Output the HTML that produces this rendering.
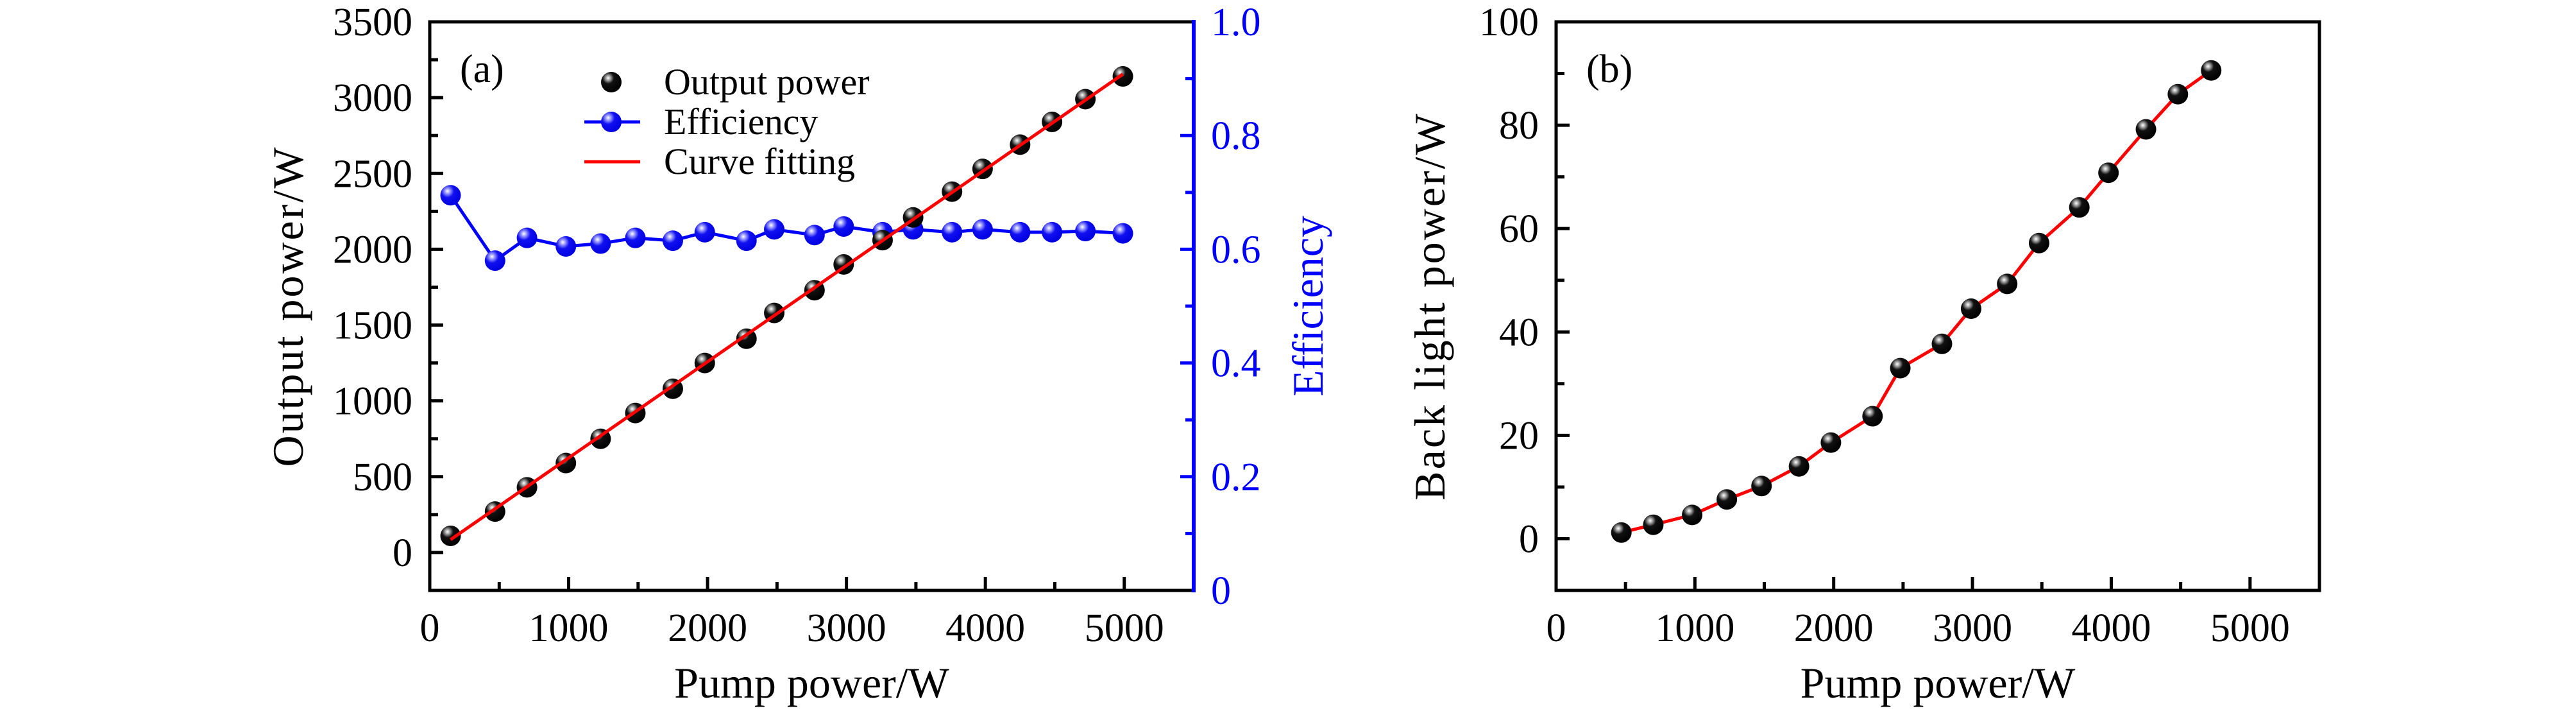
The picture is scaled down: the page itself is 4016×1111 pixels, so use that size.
<!DOCTYPE html>
<html><head><meta charset="utf-8"><style>
html,body{margin:0;padding:0;background:#fff;}
svg{display:block;}
text{font-family:"Liberation Serif","DejaVu Serif",serif;}
</style></head><body>
<svg id="chart" width="4016" height="1111" viewBox="0 0 4016 1111" xmlns="http://www.w3.org/2000/svg" font-family="Liberation Serif, DejaVu Serif, serif">
<defs>
<radialGradient id="gBlack" cx="0.35" cy="0.3" r="0.7">
<stop offset="0" stop-color="#fff"/><stop offset="0.18" stop-color="#999"/><stop offset="0.4" stop-color="#111"/><stop offset="1" stop-color="#000"/>
</radialGradient>
<radialGradient id="gBlue" cx="0.35" cy="0.3" r="0.7">
<stop offset="0" stop-color="#fff"/><stop offset="0.18" stop-color="#9a9aff"/><stop offset="0.45" stop-color="#1010f0"/><stop offset="1" stop-color="#0000e0"/>
</radialGradient>
</defs>
<g id="pa"></g>
<g id="pb"></g>
</svg>
<script>
const aPump = [150, 470, 700, 980, 1230, 1480, 1750, 1980, 2280, 2480, 2770, 2980, 3260, 3480, 3760, 3980, 4250, 4480, 4720, 4990];
const aOutput = [110, 270, 430, 590, 750, 920, 1080, 1250, 1410, 1580, 1730, 1900, 2060, 2210, 2380, 2530, 2690, 2840, 2990, 3140];
const aEff = [0.695, 0.58, 0.62, 0.605, 0.61, 0.62, 0.615, 0.63, 0.615, 0.635, 0.625, 0.64, 0.63, 0.635, 0.63, 0.635, 0.63, 0.63, 0.632, 0.628];
const aFitX = [150, 4990];
const aFitY = [85, 3155];
const bPump = [470, 700, 980, 1230, 1480, 1750, 1980, 2280, 2480, 2780, 2990, 3250, 3480, 3770, 3980, 4250, 4480, 4720];
const bBack = [1.2, 2.7, 4.6, 7.6, 10.2, 14, 18.6, 23.7, 33, 37.7, 44.5, 49.3, 57.2, 64.1, 70.8, 79.2, 86, 90.6];
const xTicks = [0, 1000, 2000, 3000, 4000, 5000];
const aYTicks = [0, 500, 1000, 1500, 2000, 2500, 3000, 3500];
const aEffTicks = [0, 0.2, 0.4, 0.6, 0.8, 1.0];
const aEffLabels = ["0", "0.2", "0.4", "0.6", "0.8", "1.0"];
const bYTicks = [0, 20, 40, 60, 80, 100];

const NS = "http://www.w3.org/2000/svg";
const FF = '"Liberation Serif", "DejaVu Serif", serif';
function mk(parent, tag, attrs, text){
  const e = document.createElementNS(NS, tag);
  for (const k in attrs) e.setAttribute(k, attrs[k]);
  if (tag === 'text') e.style.fontFamily = FF;
  if (text !== undefined) e.textContent = text;
  parent.appendChild(e); return e;
}
const TOP = 34, BOT = 920;
const TF = 62, AF = 68;

const pa = document.getElementById('pa');
const aL = 670, aR = 1861;
const ax = v => aL + (v - 0) / 5500 * (aR - aL);
const ay = v => BOT - (v + 250) / 3750 * (BOT - TOP);
const ae = v => BOT - v * (BOT - TOP);

function drawXAxis(g, L, R, xf){
  for (let v = 500; v <= 5000; v += 1000) {
    const m = mk(g, 'line', {x1: xf(v), x2: xf(v), y1: BOT, y2: BOT - 13, stroke: '#000', 'stroke-width': 5});
    
    
  }
  xTicks.forEach(v => {
    const t = mk(g, 'line', {x1: xf(v), x2: xf(v), y1: BOT, y2: BOT - 21, stroke: '#000', 'stroke-width': 5});
    
    
    const l = mk(g, 'text', {x: xf(v), y: 999, 'font-size': TF, 'text-anchor': 'middle'}, String(v));
    
    
  });
  const tt = mk(g, 'text', {x: (L + R) / 2, y: 1087, 'font-size': AF, 'text-anchor': 'middle'}, 'Pump power/W');
  
  
}
function ball(g, x, y, fill, name){
  const c = mk(g, 'circle', {cx: x, cy: y, r: 16, fill: fill});
  
  
}

for (let v = -250; v <= 3500; v += 500) {
  const m = mk(pa, 'line', {x1: aL, x2: aL + 13, y1: ay(v), y2: ay(v), stroke: '#000', 'stroke-width': 5});
  
  
}
aYTicks.forEach(v => {
  const t = mk(pa, 'line', {x1: aL, x2: aL + 21, y1: ay(v), y2: ay(v), stroke: '#000', 'stroke-width': 5});
  
  
  const l = mk(pa, 'text', {x: 643, y: ay(v) + 21, 'font-size': TF, 'text-anchor': 'end'}, String(v));
  
  
});
for (let v = 0.1; v < 1; v += 0.2) {
  const m = mk(pa, 'line', {x1: aR, x2: aR - 13, y1: ae(v), y2: ae(v), stroke: '#00f', 'stroke-width': 5});
  
  
}
aEffTicks.forEach((v, i) => {
  const t = mk(pa, 'line', {x1: aR, x2: aR - 21, y1: ae(v), y2: ae(v), stroke: '#00f', 'stroke-width': 5});
  
  
  const l = mk(pa, 'text', {x: 1888, y: ae(v) + 21, 'font-size': TF, fill: '#00f'}, aEffLabels[i]);
  
  
});
drawXAxis(pa, aL, aR, ax);
const fa = mk(pa, 'path', {d: `M${aR},${TOP} L${aL},${TOP} L${aL},${BOT} L${aR},${BOT}`, fill: 'none', stroke: '#000', 'stroke-width': 5});


const raxis = mk(pa, 'line', {x1: aR, x2: aR, y1: TOP - 3, y2: BOT + 3, stroke: '#00f', 'stroke-width': 6});


const yta = mk(pa, 'text', {transform: `translate(472,${(TOP + BOT) / 2}) rotate(-90)`, 'font-size': AF, 'text-anchor': 'middle', 'letter-spacing': 3}, 'Output power/W');


const yte = mk(pa, 'text', {transform: `translate(2062,${(TOP + BOT) / 2}) rotate(-90)`, 'font-size': AF, 'text-anchor': 'middle', fill: '#00f'}, 'Efficiency');


const effLine = mk(pa, 'polyline', {points: aPump.map((x, i) => ax(x) + ',' + ae(aEff[i])).join(' '), fill: 'none', stroke: '#00f', 'stroke-width': 5});


aPump.forEach((x, i) => ball(pa, ax(x), ae(aEff[i]), 'url(#gBlue)', 'efficiency-point'));
aPump.forEach((x, i) => ball(pa, ax(x), ay(aOutput[i]), 'url(#gBlack)', 'output-point'));
const fit = mk(pa, 'line', {x1: ax(aFitX[0]), y1: ay(aFitY[0]), x2: ax(aFitX[1]), y2: ay(aFitY[1]), stroke: '#f00', 'stroke-width': 5});


const la = mk(pa, 'text', {x: 717, y: 128, 'font-size': TF}, '(a)');


const leg = mk(pa, 'g', {});


ball(leg, 953, 128, 'url(#gBlack)', 'legend-output-marker');
const lt1 = mk(leg, 'text', {x: 1035, y: 147, 'font-size': 58}, 'Output power');


const ll2 = mk(leg, 'line', {x1: 911, x2: 998, y1: 190, y2: 190, stroke: '#00f', 'stroke-width': 5});


ball(leg, 953, 190, 'url(#gBlue)', 'legend-efficiency-marker');
const lt2 = mk(leg, 'text', {x: 1035, y: 209, 'font-size': 58}, 'Efficiency');


const ll3 = mk(leg, 'line', {x1: 911, x2: 998, y1: 252, y2: 252, stroke: '#f00', 'stroke-width': 5});


const lt3 = mk(leg, 'text', {x: 1035, y: 271, 'font-size': 58}, 'Curve fitting');



const pb = document.getElementById('pb');
const bL = 2426, bR = 3616;
const bx = v => bL + v / 5500 * (bR - bL);
const by = v => BOT - (v + 10) / 110 * (BOT - TOP);
for (let v = -10; v <= 90; v += 20) {
  const m = mk(pb, 'line', {x1: bL, x2: bL + 13, y1: by(v), y2: by(v), stroke: '#000', 'stroke-width': 5});
  
  
}
bYTicks.forEach(v => {
  const t = mk(pb, 'line', {x1: bL, x2: bL + 21, y1: by(v), y2: by(v), stroke: '#000', 'stroke-width': 5});
  
  
  const l = mk(pb, 'text', {x: 2399, y: by(v) + 21, 'font-size': TF, 'text-anchor': 'end'}, String(v));
  
  
});
drawXAxis(pb, bL, bR, bx);
const fb = mk(pb, 'rect', {x: bL, y: TOP, width: bR - bL, height: BOT - TOP, fill: 'none', stroke: '#000', 'stroke-width': 5});


const ytb = mk(pb, 'text', {transform: `translate(2252,${(TOP + BOT) / 2}) rotate(-90)`, 'font-size': AF, 'text-anchor': 'middle', 'letter-spacing': 3}, 'Back light power/W');


const bl = mk(pb, 'polyline', {points: bPump.map((x, i) => bx(x) + ',' + by(bBack[i])).join(' '), fill: 'none', stroke: '#f00', 'stroke-width': 5});


bPump.forEach((x, i) => ball(pb, bx(x), by(bBack[i]), 'url(#gBlack)', 'back-light-point'));
const lb = mk(pb, 'text', {x: 2473, y: 128, 'font-size': TF}, '(b)');


</script>
</body></html>
